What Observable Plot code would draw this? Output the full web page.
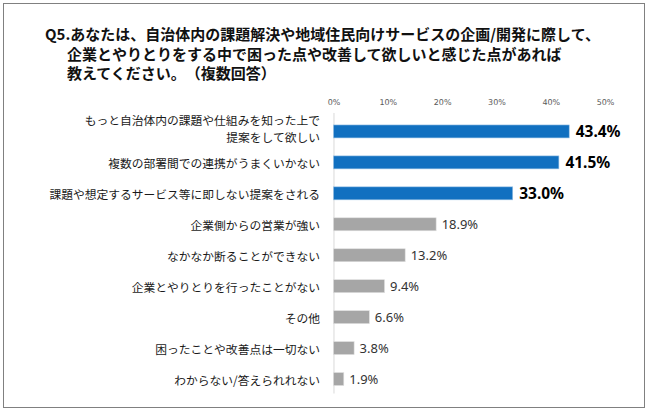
<!DOCTYPE html>
<html><head><meta charset="utf-8">
<script src="https://cdn.jsdelivr.net/npm/d3@7"></script>
<script src="https://cdn.jsdelivr.net/npm/@observablehq/plot@0.6"></script>
<style>
body{margin:0;background:#fff;}
#frame{position:absolute;left:3px;top:3px;width:640px;height:403px;border:1.5px solid #808080;background:#fff;}
#title{position:absolute;left:0;top:0;font-family:"Noto Sans CJK JP",sans-serif;font-weight:bold;font-size:15px;line-height:19.5px;color:#111;text-spacing-trim:space-all;}
#title div{white-space:nowrap;position:absolute;}
#chart{position:absolute;left:0;top:87px;}
#chart svg text{text-spacing-trim:space-all;}
</style></head>
<body>
<div id="frame">
  <div id="title">
    <div style="left:41px;top:20px">Q5.あなたは、自治体内の課題解決や地域住民向けサービスの企画/開発に際して、</div>
    <div style="left:63px;top:39.5px">企業とやりとりをする中で困った点や改善して欲しいと感じた点があれば</div>
    <div style="left:63px;top:59px">教えてください。（複数回答）</div>
  </div>
  <div id="chart"></div>
</div>
<script>
const categories = [
  "もっと自治体内の課題や仕組みを知った上で\n提案をして欲しい",
  "複数の部署間での連携がうまくいかない",
  "課題や想定するサービス等に即しない提案をされる",
  "企業側からの営業が強い",
  "なかなか断ることができない",
  "企業とやりとりを行ったことがない",
  "その他",
  "困ったことや改善点は一切ない",
  "わからない/答えられれない"
];
const values = [43.4, 41.5, 33.0, 18.9, 13.2, 9.4, 6.6, 3.8, 1.9];
const highlighted = [true, true, true, false, false, false, false, false, false];
const xTicks = [0, 10, 20, 30, 40, 50];

const data = categories.map((c, i) => ({cat: c, v: values[i], hi: highlighted[i]}));

const yLabelStyle = {tickSize: 0, tickPadding: 14, fontSize: 11.8, fill: "#1a1a1a", lineHeight: 1.45, label: null};

const chart = Plot.plot({
  width: 641,
  height: 318.5,
  marginLeft: 330,
  marginRight: 39,
  marginTop: 16.5,
  marginBottom: 5,
  style: {fontFamily: "'Noto Sans CJK JP', sans-serif", background: "transparent", overflow: "visible"},
  x: {domain: [0, 50], axis: null, label: null},
  y: {domain: categories, padding: 0.58, axis: null, label: null},
  marks: [
    Plot.axisX(xTicks, {anchor: "top", tickSize: 0, tickPadding: 3, tickFormat: d => d + "%", fontSize: 8, fill: "#595959", fontFamily: "'DejaVu Sans', sans-serif", label: null}),
    Plot.axisY([categories[0]], {...yLabelStyle, dy: -4}),
    Plot.axisY(categories.slice(1), yLabelStyle),
    Plot.ruleX([0], {stroke: "#d9d9d9", insetTop: 5.5, insetBottom: 10.5}),
    Plot.barX(data, {x: "v", y: "cat", fill: d => d.hi ? "#1170C0" : "#A6A6A6", stroke: d => d.hi ? "#9cc3e6" : "#e0e0e0", strokeWidth: 0.6}),
    Plot.text(data.filter(d => d.hi), {x: "v", y: "cat", text: d => d.v.toFixed(1) + "%", textAnchor: "start", dx: 6, fontSize: 15.5, fontWeight: "bold", fill: "#000", fontFamily: "'Noto Sans', sans-serif"}),
    Plot.text(data.filter(d => !d.hi), {x: "v", y: "cat", text: d => d.v.toFixed(1) + "%", textAnchor: "start", dx: 5, fontSize: 13, fill: "#333", fontFamily: "'Noto Sans', sans-serif"})
  ]
});
document.getElementById("chart").appendChild(chart);
</script>
</body></html>
